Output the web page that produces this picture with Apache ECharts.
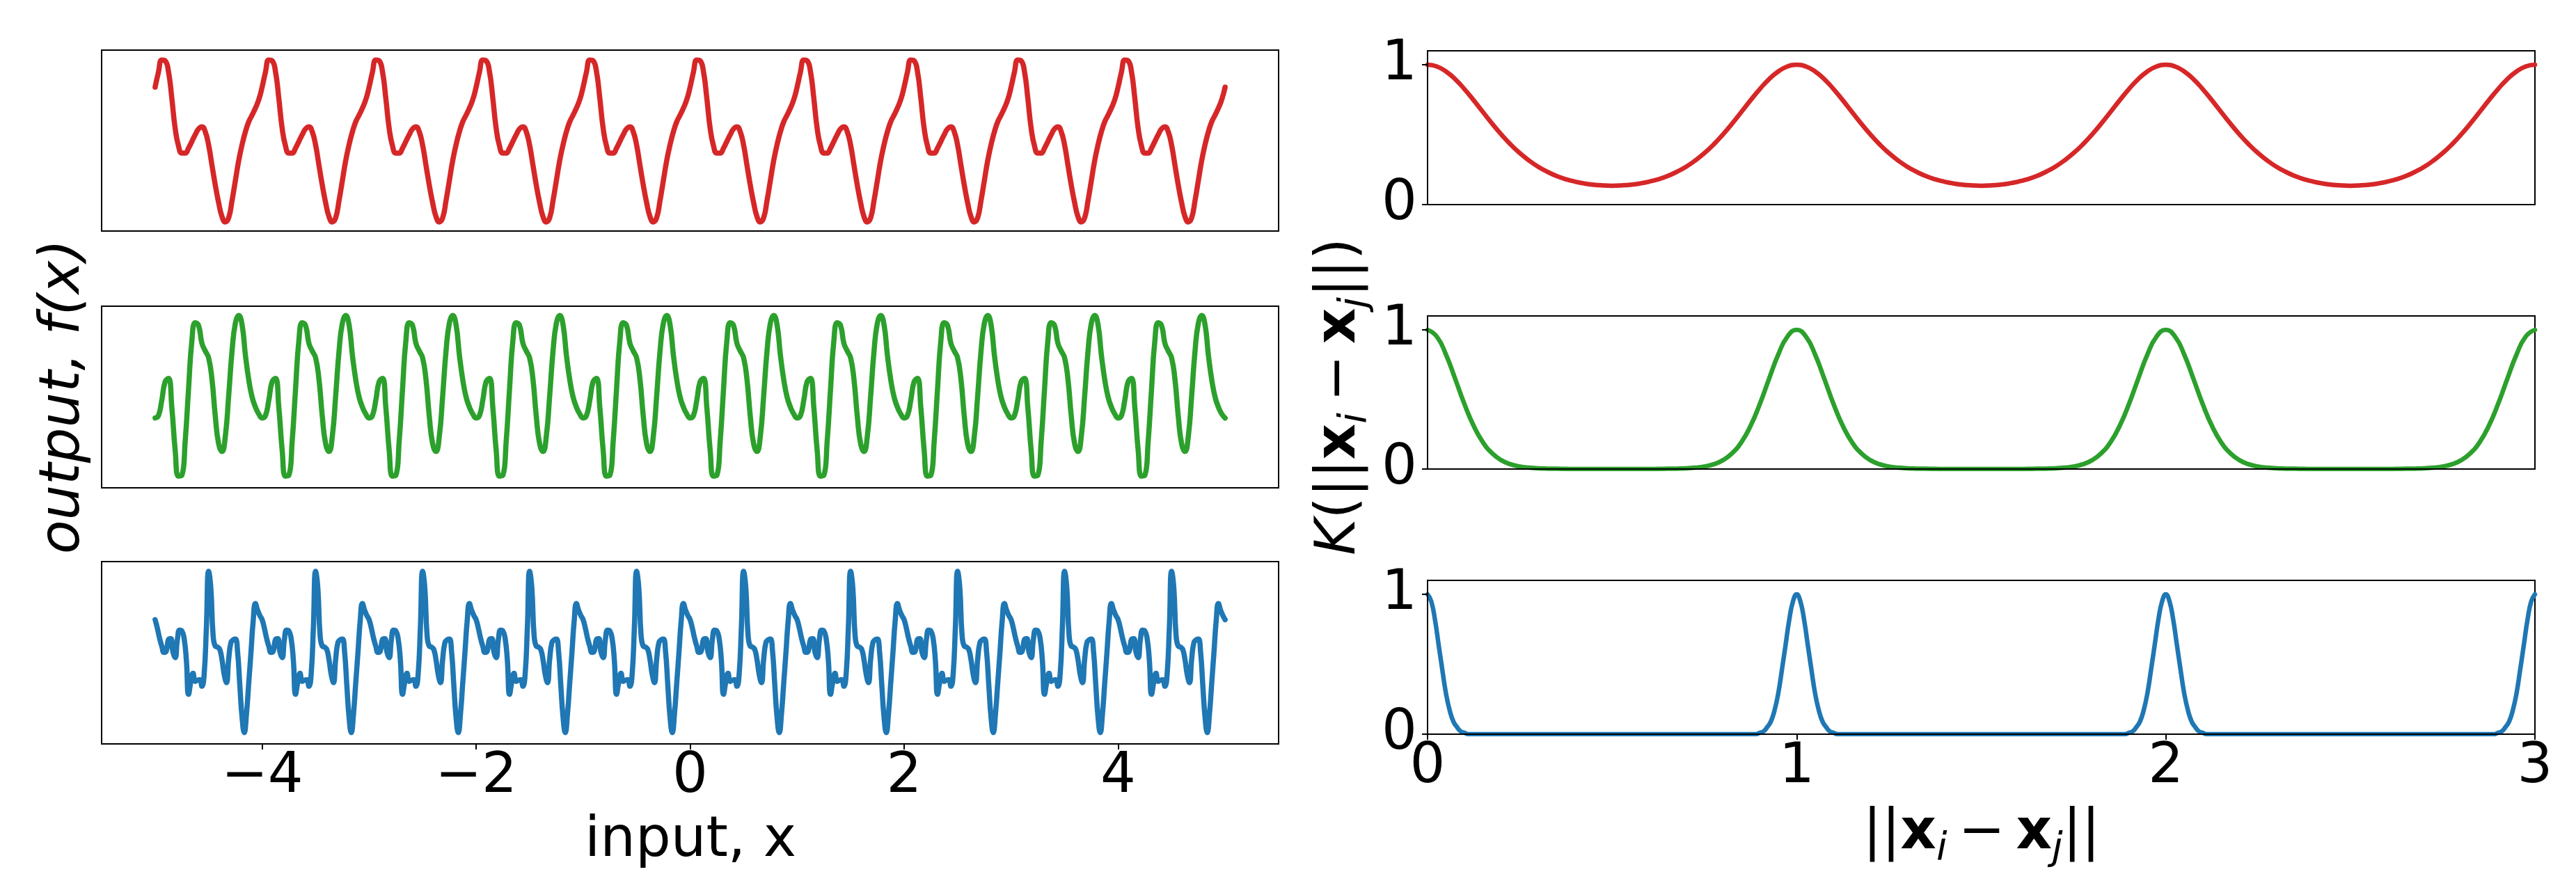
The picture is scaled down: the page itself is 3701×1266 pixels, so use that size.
<!DOCTYPE html>
<html>
<head>
<meta charset="utf-8">
<script src="https://cdn.jsdelivr.net/npm/echarts@6/dist/echarts.min.js"></script>
<style>html,body{margin:0;padding:0;background:#fff}#c{width:3701px;height:1266px}</style>
</head>
<body>
<div id="c"></div>
<script>
// ---------------- data ----------------
const leftXTicks = [-4, -2, 0, 2, 4];
const rightXTicks = [0, 1, 2, 3];
const rightYTicks = [0, 1];

// sampled function values f(x), x evenly spaced from -5 to 5
const redSample = [
1.28,1.64,1.93,1.91,1.65,1.01,0.29,-0.13,-0.30,-0.30,-0.18,-0.02,0.14,0.28,0.33,0.21,-0.11,-0.59,-1.07,-1.49,-1.82,-1.95,-1.85,-1.44,-0.96,-0.48,-0.10,0.21,0.45,0.61,0.78,0.98,
1.28,1.64,1.93,1.91,1.65,1.01,0.29,-0.13,-0.30,-0.30,-0.18,-0.02,0.14,0.28,0.33,0.21,-0.11,-0.59,-1.07,-1.49,-1.82,-1.95,-1.85,-1.44,-0.96,-0.48,-0.10,0.21,0.45,0.61,0.78,0.98,
1.28,1.64,1.93,1.91,1.65,1.01,0.29,-0.13,-0.30,-0.30,-0.18,-0.02,0.14,0.28,0.33,0.21,-0.11,-0.59,-1.07,-1.49,-1.82,-1.95,-1.85,-1.44,-0.96,-0.48,-0.10,0.21,0.45,0.61,0.78,0.98,
1.28,1.64,1.93,1.91,1.65,1.01,0.29,-0.13,-0.30,-0.30,-0.18,-0.02,0.14,0.28,0.33,0.21,-0.11,-0.59,-1.07,-1.49,-1.82,-1.95,-1.85,-1.44,-0.96,-0.48,-0.10,0.21,0.45,0.61,0.78,0.98,
1.28,1.64,1.93,1.91,1.65,1.01,0.29,-0.13,-0.30,-0.30,-0.18,-0.02,0.14,0.28,0.33,0.21,-0.11,-0.59,-1.07,-1.49,-1.82,-1.95,-1.85,-1.44,-0.96,-0.48,-0.10,0.21,0.45,0.61,0.78,0.98,
1.28,1.64,1.93,1.91,1.65,1.01,0.29,-0.13,-0.30,-0.30,-0.18,-0.02,0.14,0.28,0.33,0.21,-0.11,-0.59,-1.07,-1.49,-1.82,-1.95,-1.85,-1.44,-0.96,-0.48,-0.10,0.21,0.45,0.61,0.78,0.98,
1.28,1.64,1.93,1.91,1.65,1.01,0.29,-0.13,-0.30,-0.30,-0.18,-0.02,0.14,0.28,0.33,0.21,-0.11,-0.59,-1.07,-1.49,-1.82,-1.95,-1.85,-1.44,-0.96,-0.48,-0.10,0.21,0.45,0.61,0.78,0.98,
1.28,1.64,1.93,1.91,1.65,1.01,0.29,-0.13,-0.30,-0.30,-0.18,-0.02,0.14,0.28,0.33,0.21,-0.11,-0.59,-1.07,-1.49,-1.82,-1.95,-1.85,-1.44,-0.96,-0.48,-0.10,0.21,0.45,0.61,0.78,0.98,
1.28,1.64,1.93,1.91,1.65,1.01,0.29,-0.13,-0.30,-0.30,-0.18,-0.02,0.14,0.28,0.33,0.21,-0.11,-0.59,-1.07,-1.49,-1.82,-1.95,-1.85,-1.44,-0.96,-0.48,-0.10,0.21,0.45,0.61,0.78,0.98,
1.28,1.64,1.93,1.91,1.65,1.01,0.29,-0.13,-0.30,-0.30,-0.18,-0.02,0.14,0.28,0.33,0.21,-0.11,-0.59,-1.07,-1.49,-1.82,-1.95,-1.85,-1.44,-0.96,-0.48,-0.10,0.21,0.45,0.61,0.78,0.98,
1.28];

const greenSample = [
-0.53,-0.47,-0.09,0.37,0.45,-0.27,-1.33,-1.97,-1.95,-1.10,0.19,1.39,1.83,1.76,1.32,1.13,0.96,0.43,-0.49,-1.17,-1.36,-0.98,0.02,1.12,1.82,2.01,1.78,1.03,0.42,-0.01,-0.26,-0.43,
-0.53,-0.47,-0.09,0.37,0.45,-0.27,-1.33,-1.97,-1.95,-1.10,0.19,1.39,1.83,1.76,1.32,1.13,0.96,0.43,-0.49,-1.17,-1.36,-0.98,0.02,1.12,1.82,2.01,1.78,1.03,0.42,-0.01,-0.26,-0.43,
-0.53,-0.47,-0.09,0.37,0.45,-0.27,-1.33,-1.97,-1.95,-1.10,0.19,1.39,1.83,1.76,1.32,1.13,0.96,0.43,-0.49,-1.17,-1.36,-0.98,0.02,1.12,1.82,2.01,1.78,1.03,0.42,-0.01,-0.26,-0.43,
-0.53,-0.47,-0.09,0.37,0.45,-0.27,-1.33,-1.97,-1.95,-1.10,0.19,1.39,1.83,1.76,1.32,1.13,0.96,0.43,-0.49,-1.17,-1.36,-0.98,0.02,1.12,1.82,2.01,1.78,1.03,0.42,-0.01,-0.26,-0.43,
-0.53,-0.47,-0.09,0.37,0.45,-0.27,-1.33,-1.97,-1.95,-1.10,0.19,1.39,1.83,1.76,1.32,1.13,0.96,0.43,-0.49,-1.17,-1.36,-0.98,0.02,1.12,1.82,2.01,1.78,1.03,0.42,-0.01,-0.26,-0.43,
-0.53,-0.47,-0.09,0.37,0.45,-0.27,-1.33,-1.97,-1.95,-1.10,0.19,1.39,1.83,1.76,1.32,1.13,0.96,0.43,-0.49,-1.17,-1.36,-0.98,0.02,1.12,1.82,2.01,1.78,1.03,0.42,-0.01,-0.26,-0.43,
-0.53,-0.47,-0.09,0.37,0.45,-0.27,-1.33,-1.97,-1.95,-1.10,0.19,1.39,1.83,1.76,1.32,1.13,0.96,0.43,-0.49,-1.17,-1.36,-0.98,0.02,1.12,1.82,2.01,1.78,1.03,0.42,-0.01,-0.26,-0.43,
-0.53,-0.47,-0.09,0.37,0.45,-0.27,-1.33,-1.97,-1.95,-1.10,0.19,1.39,1.83,1.76,1.32,1.13,0.96,0.43,-0.49,-1.17,-1.36,-0.98,0.02,1.12,1.82,2.01,1.78,1.03,0.42,-0.01,-0.26,-0.43,
-0.53,-0.47,-0.09,0.37,0.45,-0.27,-1.33,-1.97,-1.95,-1.10,0.19,1.39,1.83,1.76,1.32,1.13,0.96,0.43,-0.49,-1.17,-1.36,-0.98,0.02,1.12,1.82,2.01,1.78,1.03,0.42,-0.01,-0.26,-0.43,
-0.53,-0.47,-0.09,0.37,0.45,-0.27,-1.33,-1.97,-1.95,-1.10,0.19,1.39,1.83,1.76,1.32,1.13,0.96,0.43,-0.49,-1.17,-1.36,-0.98,0.02,1.12,1.82,2.01,1.78,1.03,0.42,-0.01,-0.26,-0.43,
-0.53];

const blueSample = [
0.82,0.61,0.36,0.16,0.01,0.04,0.33,0.35,0.02,-0.12,0.33,0.56,0.54,0.36,-0.17,-1.03,-0.73,-0.51,-0.71,-0.68,-0.67,-0.83,-0.53,0.63,2.02,1.60,0.44,0.16,0.14,0.08,-0.17,-0.54,-0.74,-0.16,0.25,0.32,0.34,0.02,-0.81,-1.60,-1.98,-1.51,-0.75,0.01,0.79,1.22,1.05,0.92,
0.82,0.61,0.36,0.16,0.01,0.04,0.33,0.35,0.02,-0.12,0.33,0.56,0.54,0.36,-0.17,-1.03,-0.73,-0.51,-0.71,-0.68,-0.67,-0.83,-0.53,0.63,2.02,1.60,0.44,0.16,0.14,0.08,-0.17,-0.54,-0.74,-0.16,0.25,0.32,0.34,0.02,-0.81,-1.60,-1.98,-1.51,-0.75,0.01,0.79,1.22,1.05,0.92,
0.82,0.61,0.36,0.16,0.01,0.04,0.33,0.35,0.02,-0.12,0.33,0.56,0.54,0.36,-0.17,-1.03,-0.73,-0.51,-0.71,-0.68,-0.67,-0.83,-0.53,0.63,2.02,1.60,0.44,0.16,0.14,0.08,-0.17,-0.54,-0.74,-0.16,0.25,0.32,0.34,0.02,-0.81,-1.60,-1.98,-1.51,-0.75,0.01,0.79,1.22,1.05,0.92,
0.82,0.61,0.36,0.16,0.01,0.04,0.33,0.35,0.02,-0.12,0.33,0.56,0.54,0.36,-0.17,-1.03,-0.73,-0.51,-0.71,-0.68,-0.67,-0.83,-0.53,0.63,2.02,1.60,0.44,0.16,0.14,0.08,-0.17,-0.54,-0.74,-0.16,0.25,0.32,0.34,0.02,-0.81,-1.60,-1.98,-1.51,-0.75,0.01,0.79,1.22,1.05,0.92,
0.82,0.61,0.36,0.16,0.01,0.04,0.33,0.35,0.02,-0.12,0.33,0.56,0.54,0.36,-0.17,-1.03,-0.73,-0.51,-0.71,-0.68,-0.67,-0.83,-0.53,0.63,2.02,1.60,0.44,0.16,0.14,0.08,-0.17,-0.54,-0.74,-0.16,0.25,0.32,0.34,0.02,-0.81,-1.60,-1.98,-1.51,-0.75,0.01,0.79,1.22,1.05,0.92,
0.82,0.61,0.36,0.16,0.01,0.04,0.33,0.35,0.02,-0.12,0.33,0.56,0.54,0.36,-0.17,-1.03,-0.73,-0.51,-0.71,-0.68,-0.67,-0.83,-0.53,0.63,2.02,1.60,0.44,0.16,0.14,0.08,-0.17,-0.54,-0.74,-0.16,0.25,0.32,0.34,0.02,-0.81,-1.60,-1.98,-1.51,-0.75,0.01,0.79,1.22,1.05,0.92,
0.82,0.61,0.36,0.16,0.01,0.04,0.33,0.35,0.02,-0.12,0.33,0.56,0.54,0.36,-0.17,-1.03,-0.73,-0.51,-0.71,-0.68,-0.67,-0.83,-0.53,0.63,2.02,1.60,0.44,0.16,0.14,0.08,-0.17,-0.54,-0.74,-0.16,0.25,0.32,0.34,0.02,-0.81,-1.60,-1.98,-1.51,-0.75,0.01,0.79,1.22,1.05,0.92,
0.82,0.61,0.36,0.16,0.01,0.04,0.33,0.35,0.02,-0.12,0.33,0.56,0.54,0.36,-0.17,-1.03,-0.73,-0.51,-0.71,-0.68,-0.67,-0.83,-0.53,0.63,2.02,1.60,0.44,0.16,0.14,0.08,-0.17,-0.54,-0.74,-0.16,0.25,0.32,0.34,0.02,-0.81,-1.60,-1.98,-1.51,-0.75,0.01,0.79,1.22,1.05,0.92,
0.82,0.61,0.36,0.16,0.01,0.04,0.33,0.35,0.02,-0.12,0.33,0.56,0.54,0.36,-0.17,-1.03,-0.73,-0.51,-0.71,-0.68,-0.67,-0.83,-0.53,0.63,2.02,1.60,0.44,0.16,0.14,0.08,-0.17,-0.54,-0.74,-0.16,0.25,0.32,0.34,0.02,-0.81,-1.60,-1.98,-1.51,-0.75,0.01,0.79,1.22,1.05,0.92,
0.82,0.61,0.36,0.16,0.01,0.04,0.33,0.35,0.02,-0.12,0.33,0.56,0.54,0.36,-0.17,-1.03,-0.73,-0.51,-0.71,-0.68,-0.67,-0.83,-0.53,0.63,2.02,1.60,0.44,0.16,0.14,0.08,-0.17,-0.54,-0.74,-0.16,0.25,0.32,0.34,0.02,-0.81,-1.60,-1.98,-1.51,-0.75,0.01,0.79,1.22,1.05,0.92,
0.82];

// kernel values K(r), r evenly spaced from 0 to 3
const redKernel = [
1.000,0.988,0.952,0.897,0.826,0.746,0.662,0.579,0.501,0.430,0.368,0.315,0.270,0.234,0.204,0.181,0.164,0.151,0.142,0.137,0.135,0.137,0.142,0.151,0.164,0.181,0.204,0.234,0.270,0.315,0.368,0.430,0.501,0.579,0.662,0.746,0.826,0.897,0.952,0.988,
1.000,0.988,0.952,0.897,0.826,0.746,0.662,0.579,0.501,0.430,0.368,0.315,0.270,0.234,0.204,0.181,0.164,0.151,0.142,0.137,0.135,0.137,0.142,0.151,0.164,0.181,0.204,0.234,0.270,0.315,0.368,0.430,0.501,0.579,0.662,0.746,0.826,0.897,0.952,0.988,
1.000,0.988,0.952,0.897,0.826,0.746,0.662,0.579,0.501,0.430,0.368,0.315,0.270,0.234,0.204,0.181,0.164,0.151,0.142,0.137,0.135,0.137,0.142,0.151,0.164,0.181,0.204,0.234,0.270,0.315,0.368,0.430,0.501,0.579,0.662,0.746,0.826,0.897,0.952,0.988,
1.000];

const greenKernel = [
1.000,0.952,0.822,0.647,0.466,0.310,0.192,0.113,0.063,0.034,0.018,0.010,0.005,0.003,0.002,0.001,0,0,0,0,0,0,0,0,0,0.001,0.002,0.003,0.005,0.010,0.018,0.034,0.063,0.113,0.192,0.310,0.466,0.647,0.822,0.952,
1.000,0.952,0.822,0.647,0.466,0.310,0.192,0.113,0.063,0.034,0.018,0.010,0.005,0.003,0.002,0.001,0,0,0,0,0,0,0,0,0,0.001,0.002,0.003,0.005,0.010,0.018,0.034,0.063,0.113,0.192,0.310,0.466,0.647,0.822,0.952,
1.000,0.952,0.822,0.647,0.466,0.310,0.192,0.113,0.063,0.034,0.018,0.010,0.005,0.003,0.002,0.001,0,0,0,0,0,0,0,0,0,0.001,0.002,0.003,0.005,0.010,0.018,0.034,0.063,0.113,0.192,0.310,0.466,0.647,0.822,0.952,
1.000];

const blueKernel = [
1,0.95,0.82,0.64,0.46,0.29,0.17,0.09,0.05,0.02,0.01,
0,0,0,0,0,0,0,0,0,0,0,0,0,0,0,0,0,0,0,0,0,0,0,0,0,0,0,0,0,0,0,0,0,0,0,0,0,0,0,0,
0,0,0,0,0,0,0,0,0,0,0,0,0,0,0,0,0,0,0,0,0,0,0,0,0,0,0,0,0,0,0,0,0,0,0,0,0,0,0,
0.01,0.02,0.05,0.09,0.17,0.29,0.46,0.64,0.82,0.95,
1,0.95,0.82,0.64,0.46,0.29,0.17,0.09,0.05,0.02,0.01,
0,0,0,0,0,0,0,0,0,0,0,0,0,0,0,0,0,0,0,0,0,0,0,0,0,0,0,0,0,0,0,0,0,0,0,0,0,0,0,0,
0,0,0,0,0,0,0,0,0,0,0,0,0,0,0,0,0,0,0,0,0,0,0,0,0,0,0,0,0,0,0,0,0,0,0,0,0,0,0,
0.01,0.02,0.05,0.09,0.17,0.29,0.46,0.64,0.82,0.95,
1,0.95,0.82,0.64,0.46,0.29,0.17,0.09,0.05,0.02,0.01,
0,0,0,0,0,0,0,0,0,0,0,0,0,0,0,0,0,0,0,0,0,0,0,0,0,0,0,0,0,0,0,0,0,0,0,0,0,0,0,0,
0,0,0,0,0,0,0,0,0,0,0,0,0,0,0,0,0,0,0,0,0,0,0,0,0,0,0,0,0,0,0,0,0,0,0,0,0,0,0,
0.01,0.02,0.05,0.09,0.17,0.29,0.46,0.64,0.82,0.95,
1];

// ---------------- chart ----------------
function pairs(ys, lo, hi) {
  const n = ys.length;
  return ys.map((y, i) => [lo + (hi - lo) * i / (n - 1), y]);
}
function fmt(v) { return v < 0 ? '\u2212' + Math.abs(v) : String(v); }

const FONT = 'DejaVu Sans';
const RED = '#d62728', GREEN = '#2ca02c', BLUE = '#1f77b4';

const chart = echarts.init(document.getElementById('c'), null, {renderer: 'canvas', width: 3701, height: 1266});

const leftBox = [[72, 260], [440, 261], [807, 262]];
const rightBox = [[73, 221], [454, 220], [834, 221]];
const leftYRange = [[-2.167, 2.167], [-2.26, 2.24], [-2.26, 2.26]];

const tickStyle = {color: '#000', width: 2};
const labelStyle = {fontSize: 80, fontFamily: FONT, color: '#000'};

const grids = [];
const xAxes = [];
const yAxes = [];
leftBox.forEach(([t, h], i) => {
  grids.push({left: 146, top: t, width: 1691, height: h, show: true, borderColor: '#000', borderWidth: 2, backgroundColor: 'rgba(0,0,0,0)'});
  const bottom = i === 2;
  xAxes.push({gridIndex: i, type: 'value', min: -5.5, max: 5.5, z: 5,
    axisLine: {show: true, onZero: false, lineStyle: tickStyle},
    axisTick: {show: bottom, customValues: leftXTicks, length: 8, inside: false, lineStyle: tickStyle},
    axisLabel: Object.assign({show: bottom, customValues: leftXTicks, formatter: fmt, margin: 8}, labelStyle),
    splitLine: {show: false}});
  yAxes.push({gridIndex: i, type: 'value', min: leftYRange[i][0], max: leftYRange[i][1], z: 5,
    axisLine: {show: true, onZero: false, lineStyle: tickStyle},
    axisTick: {show: false}, axisLabel: {show: false}, splitLine: {show: false}});
});
rightBox.forEach(([t, h], k) => {
  const i = k + 3;
  grids.push({left: 2051, top: t, width: 1591, height: h, show: true, borderColor: '#000', borderWidth: 2, backgroundColor: 'rgba(0,0,0,0)'});
  const bottom = k === 2;
  xAxes.push({gridIndex: i, type: 'value', min: 0, max: 3, z: 5,
    axisLine: {show: true, onZero: false, lineStyle: tickStyle},
    axisTick: {show: bottom, customValues: rightXTicks, length: 8, inside: false, lineStyle: tickStyle},
    axisLabel: Object.assign({show: bottom, customValues: rightXTicks, formatter: fmt, margin: 8}, labelStyle),
    splitLine: {show: false}});
  yAxes.push({gridIndex: i, type: 'value', min: 0, max: 1.1, z: 5,
    axisLine: {show: true, onZero: false, lineStyle: tickStyle},
    axisTick: {show: true, customValues: rightYTicks, length: 8, inside: false, lineStyle: tickStyle},
    axisLabel: Object.assign({show: true, customValues: rightYTicks, formatter: fmt, margin: 15}, labelStyle),
    splitLine: {show: false}});
});

function lineSeries(idx, data, color, width) {
  return {type: 'line', xAxisIndex: idx, yAxisIndex: idx, data: data, showSymbol: false, symbol: 'none',
    smooth: 0.5, silent: true, animation: false, z: 2,
    lineStyle: {color: color, width: width, cap: 'round', join: 'round'}, itemStyle: {color: color}};
}

const richBase = {
  n: {fontSize: 80, fontFamily: FONT, fill: '#000', color: '#000', lineHeight: 100},
  k: {fontSize: 80, fontFamily: FONT, fontStyle: 'italic', fill: '#000', color: '#000', lineHeight: 100},
  b: {fontSize: 80, fontFamily: FONT, fontWeight: 'bold', fill: '#000', color: '#000', lineHeight: 100},
  s: {fontSize: 56, fontFamily: FONT, fontStyle: 'italic', fill: '#000', color: '#000', lineHeight: 62, verticalAlign: 'bottom'}
};
const TS = '\u2009';

chart.setOption({
  backgroundColor: '#fff',
  animation: false,
  grid: grids,
  xAxis: xAxes,
  yAxis: yAxes,
  series: [
    lineSeries(0, pairs(redSample, -5, 5), RED, 7.5),
    lineSeries(1, pairs(greenSample, -5, 5), GREEN, 7.5),
    lineSeries(2, pairs(blueSample, -5, 5), BLUE, 7.5),
    lineSeries(3, pairs(redKernel, 0, 3), RED, 6.5),
    lineSeries(4, pairs(greenKernel, 0, 3), GREEN, 6.5),
    lineSeries(5, pairs(blueKernel, 0, 3), BLUE, 6.5)
  ],
  graphic: [
    {type: 'text', x: 992, y: 1209, silent: true,
     style: {text: 'input, x', fontSize: 80, fontFamily: FONT, fill: '#000', align: 'center', verticalAlign: 'middle'}},
    {type: 'text', x: 92, y: 570, rotation: Math.PI / 2, silent: true,
     style: {text: 'output, f(x)', fontSize: 80, fontStyle: 'italic', fontFamily: FONT, fill: '#000', align: 'center', verticalAlign: 'middle'}},
    {type: 'text', x: 2847, y: 1198, silent: true,
     style: {text: '{n|||}{b|x}{s|i}{n|' + TS + '\u2212' + TS + '}{b|x}{s|j}{n|||}', rich: richBase,
             fontSize: 80, fontFamily: FONT, fill: '#000', align: 'center', verticalAlign: 'middle'}},
    {type: 'text', x: 1925, y: 570, rotation: Math.PI / 2, silent: true,
     style: {text: '{k|K}{n|(||}{b|x}{s|i}{n|' + TS + '\u2212' + TS + '}{b|x}{s|j}{n|||)}', rich: richBase,
             fontSize: 80, fontFamily: FONT, fill: '#000', align: 'center', verticalAlign: 'middle'}}
  ]
});
</script>
</body>
</html>
